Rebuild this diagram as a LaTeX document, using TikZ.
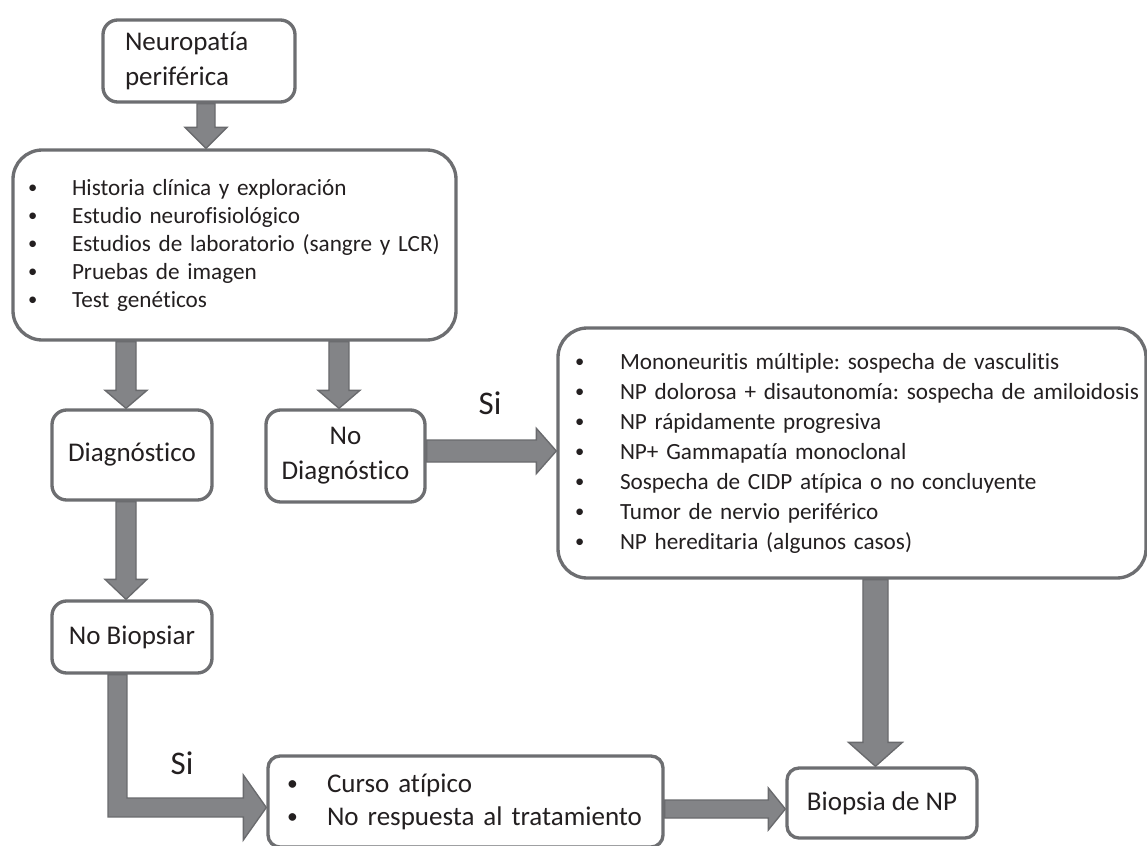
\documentclass[tikz,border=0pt]{standalone}
\usepackage{fontspec}
\setmainfont{Carlito}[Ligatures=NoCommon]
\usetikzlibrary{calc,backgrounds}
\definecolor{txt}{HTML}{231F20}
\definecolor{boxline}{HTML}{6D6E71}
\definecolor{arrfill}{HTML}{838487}
\definecolor{arrline}{HTML}{696A6D}
\frenchspacing
\newcommand\bl[2]{\mbox{\makebox[#1][l]{\raisebox{0.07em}{\scalebox{0.8}{•}}}#2}}
\tikzset{
  box/.style={draw=boxline, line width=2.5pt, fill=white, text=txt, inner sep=0pt, rounded corners=11pt},
  blockarr/.style={fill=arrfill, draw=arrline, line width=1pt, line join=miter},
  lbl/.style={text=txt, inner sep=0pt, font=\fontsize{24.75pt}{30pt}\selectfont}
}
\newcommand\arrV[5]{%
  \filldraw[blockarr] let \p1=#1, \p2=#2 in
  (\x1-#3,\y1) -- (\x1-#3,\y2+#5) -- (\x1-#4,\y2+#5) -- (\x1,\y2) --
  (\x1+#4,\y2+#5) -- (\x1+#3,\y2+#5) -- (\x1+#3,\y1) -- cycle;}
\newcommand\arrH[5]{%
  \filldraw[blockarr] let \p1=#1, \p2=#2 in
  (\x1,\y1+#3) -- (\x2-#5,\y1+#3) -- (\x2-#5,\y1+#4) -- (\x2,\y1) --
  (\x2-#5,\y1-#4) -- (\x2-#5,\y1-#3) -- (\x1,\y1-#3) -- cycle;}
\newcommand\arrL[5]{%
  \filldraw[blockarr] let \p1=#1, \p2=#2 in
  (\x1-#3,\y1) -- (\x1-#3,\y2-#3) -- (\x2-#5,\y2-#3) -- (\x2-#5,\y2-#4) --
  (\x2,\y2) -- (\x2-#5,\y2+#4) -- (\x2-#5,\y2+#3) -- (\x1+#3,\y2+#3) --
  (\x1+#3,\y1) -- cycle;}
\begin{document}
\begin{tikzpicture}[x=0.75pt,y=-0.75pt]
\useasboundingbox (0,0) rectangle (1147,846);

% boxes
\node[box, inner xsep=16.5pt, text width=111pt, minimum height=61.5pt, align=left,
      font=\fontsize{20.25pt}{26.25pt}\selectfont] (n1) at (199,61) {Neuropatía\\periférica};

\node[box, rounded corners=22pt, inner xsep=11.25pt, text width=309.75pt, minimum height=142.5pt, align=left,
      font=\fontsize{17.4pt}{21pt}\selectfont] (n2) at (234.5,245)
  {\bl{33pt}{Historia clínica y exploración}\\
   \bl{33pt}{Estudio neurofisiológico}\\
   \bl{33pt}{Estudios de laboratorio (sangre y LCR)}\\
   \bl{33pt}{Pruebas de imagen}\\
   \bl{33pt}{Test genéticos}};

\node[box, minimum width=120pt, minimum height=67.5pt, align=center,
      font=\fontsize{20.25pt}{26.25pt}\selectfont] (n3) at (132,455) {Diagnóstico};

\node[box, minimum width=119.25pt, minimum height=69pt, align=center,
      font=\fontsize{20.25pt}{26.25pt}\selectfont] (n4) at (345.5,456) {No\\Diagnóstico};

\node[box, rounded corners=22pt, inner xsep=12.75pt, text width=415.5pt, minimum height=187.5pt, align=left,
      font=\fontsize{17.4pt}{22.5pt}\selectfont] (n5) at (852,453)
  {\bl{33.75pt}{Mononeuritis múltiple: sospecha de vasculitis}\\
   \bl{33.75pt}{NP dolorosa + disautonomía: sospecha de amiloidosis}\\
   \bl{33.75pt}{NP rápidamente progresiva}\\
   \bl{33.75pt}{NP+ Gammapatía monoclonal}\\
   \bl{33.75pt}{Sospecha de CIDP atípica o no concluyente}\\
   \bl{33.75pt}{Tumor de nervio periférico}\\
   \bl{33.75pt}{NP hereditaria (algunos casos)}};

\node[box, minimum width=120pt, minimum height=54pt, align=center,
      font=\fontsize{20.25pt}{26.25pt}\selectfont] (n6) at (132,637) {No Biopsiar};

\node[box, rounded corners=9pt, inner xsep=14.25pt, text width=267.75pt, minimum height=68.25pt, align=left,
      font=\fontsize{20.25pt}{24.75pt}\selectfont] (n7) at (465.5,801.5)
  {\bl{30pt}{Curso atípico}\\
   \bl{30pt}{No respuesta al tratamiento}};

\node[box, rounded corners=9pt, minimum width=142.5pt, minimum height=52.5pt, align=center,
      font=\fontsize{20.25pt}{26.25pt}\selectfont] (n8) at (882,803) {Biopsia de NP};

% labels
\node[lbl] (si1) at (490,403) {Si};
\node[lbl] (si2) at (182,763) {Si};

% block arrows
\begin{scope}[on background layer]
\arrV{([xshift=5.25pt]n1.south)}{(n2.north)}{6.75pt}{15.75pt}{15.75pt}
\arrV{([xshift=-4.5pt]n3.north |- n2.south)}{(n3.north)}{7.5pt}{15.75pt}{13.5pt}
\arrV{([xshift=-4.9pt]n4.north |- n2.south)}{(n4.north)}{7.5pt}{15.75pt}{13.5pt}
\arrV{([xshift=-4.5pt]n3.south)}{(n6.north)}{7.5pt}{15.75pt}{15pt}
\arrH{([yshift=3.75pt]n4.east)}{(n5.west)}{8.25pt}{17pt}{15pt}
\arrV{([xshift=-4.9pt]n8.north |- n5.south)}{(n8.north)}{9.4pt}{20.25pt}{18pt}
\arrH{([yshift=-4.5pt]n8.west -| n7.east)}{(n8.west)}{6.75pt}{15.75pt}{12.75pt}
\arrL{([xshift=-10.9pt]n6.south)}{([yshift=-4.5pt]n7.west)}{7.1pt}{24.4pt}{17.25pt}
\end{scope}
\end{tikzpicture}
\end{document}
